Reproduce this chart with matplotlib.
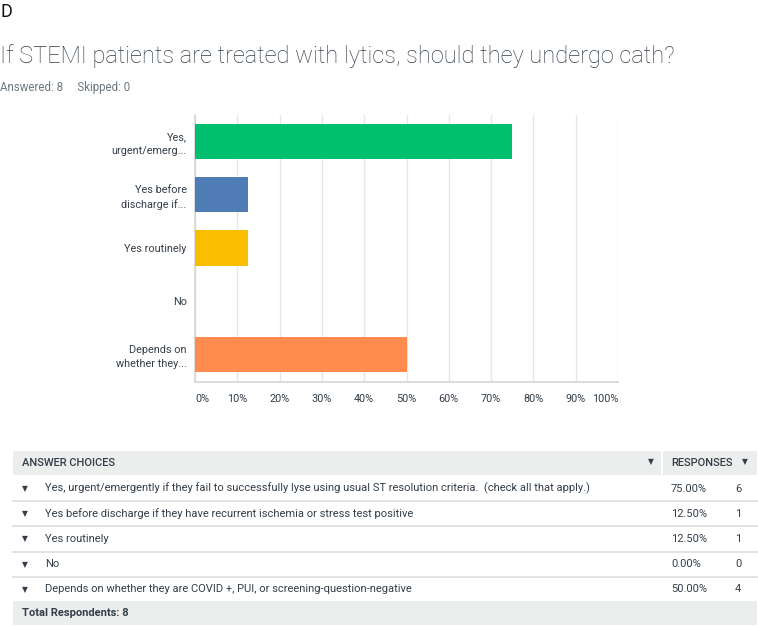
import matplotlib.pyplot as plt
from matplotlib.patches import Rectangle
from matplotlib.lines import Line2D

# chart data
bar_labels = ["Yes,\nurgent/emerg...", "Yes before\ndischarge if...", "Yes routinely",
              "No", "Depends on\nwhether they..."]
choices = [
    "Yes, urgent/emergently if they fail to successfully lyse using usual ST resolution criteria.  (check all that apply.)",
    "Yes before discharge if they have recurrent ischemia or stress test positive",
    "Yes routinely",
    "No",
    "Depends on whether they are COVID +, PUI, or screening-question-negative",
]
percent = [75.0, 12.5, 12.5, 0.0, 50.0]
counts = [6, 1, 1, 0, 4]
bar_colors = ["#00bf6f", "#507cb6", "#f9be00", "#6bc8cd", "#ff8b4f"]
x_ticks = [0, 10, 20, 30, 40, 50, 60, 70, 80, 90, 100]
answered, skipped = 8, 0

W, H = 758, 627
TXT = "#333e48"
FONT = ["Roboto", "DejaVu Sans"]

fig = plt.figure(figsize=(W / 100, H / 100), dpi=100)


def fx(px):
    return px / W


def fy(py):
    return 1 - py / H


def ftext(x, y, s, **kw):
    kw.setdefault("family", FONT)
    kw.setdefault("color", TXT)
    kw.setdefault("va", "center")
    fig.text(fx(x), fy(y), s, **kw)


# header
ftext(0, 12, "D", fontsize=13, color="#111111")
ftext(0, 56, "If STEMI patients are treated with lytics, should they undergo cath?",
      fontsize=17, fontweight="light")
ftext(0, 87, f"Answered: {answered}     Skipped: {skipped}", fontsize=8.3, color="#6b787f")

# bar chart
ax = fig.add_axes([fx(195), fy(382), fx(618) - fx(195), (382 - 115) / H])
ypos = list(range(len(percent)))
ax.barh(ypos, percent, height=0.66, color=bar_colors, zorder=3)
ax.set_xlim(0, 100)
ax.set_ylim(4.52, -0.5)
ax.set_yticks(ypos)
ax.set_yticklabels(bar_labels, fontsize=7.8, color=TXT, family=FONT, linespacing=1.45)
ax.set_xticks(x_ticks)
ax.set_xticklabels([f"{t}%" for t in x_ticks], fontsize=7.8, color=TXT, family=FONT)
labs = ax.get_xticklabels()
labs[0].set_ha("left")
labs[-1].set_ha("right")
ax.tick_params(length=0, pad=9)
ax.tick_params(axis="y", pad=6)
ax.grid(axis="x", color="#e6e6e6", linewidth=1, zorder=0)
for s in ["top", "right"]:
    ax.spines[s].set_visible(False)
for s in ["left", "bottom"]:
    ax.spines[s].set_color("#d5d5d5")
    ax.spines[s].set_linewidth(1.2)

# table
L, R, SPLIT = 13, 757, 662
band = "#eceeee"
fig.add_artist(Rectangle((fx(L), fy(475)), fx(SPLIT - 1) - fx(L), (475 - 451) / H,
                         transform=fig.transFigure, color=band, lw=0))
fig.add_artist(Rectangle((fx(SPLIT + 1), fy(475)), fx(R) - fx(SPLIT + 1), (475 - 451) / H,
                         transform=fig.transFigure, color=band, lw=0))
fig.add_artist(Rectangle((fx(L), fy(625)), fx(R) - fx(L), (625 - 601) / H,
                         transform=fig.transFigure, color=band, lw=0))
ftext(22, 463, "ANSWER CHOICES", fontsize=8, fontweight="medium")
ftext(671, 463, "RESPONSES", fontsize=8, fontweight="medium")
ftext(651, 462, "▼", fontsize=5.5, family=["DejaVu Sans"], ha="center")
ftext(745, 462, "▼", fontsize=5.5, family=["DejaVu Sans"], ha="center")

row_h = 25.2
for i, (c, p, n) in enumerate(zip(choices, percent, counts)):
    yc = 488.5 + i * row_h
    ftext(25, yc, "▼", fontsize=5.5, family=["DejaVu Sans"], ha="center")
    ftext(45, yc, c, fontsize=8)
    ftext(671, yc, f"{p:.2f}%", fontsize=8)
    ftext(738, yc, str(n), fontsize=8, ha="center")
    if i < len(choices) - 1:
        ly = fy(yc + row_h / 2)
        fig.add_artist(Line2D([fx(L), fx(R)], [ly, ly], color="#dddddd", lw=1.2))

ftext(22, 613, f"Total Respondents: {answered}", fontsize=8, fontweight="bold")

fig.savefig("out.png", dpi=100, facecolor="white")
